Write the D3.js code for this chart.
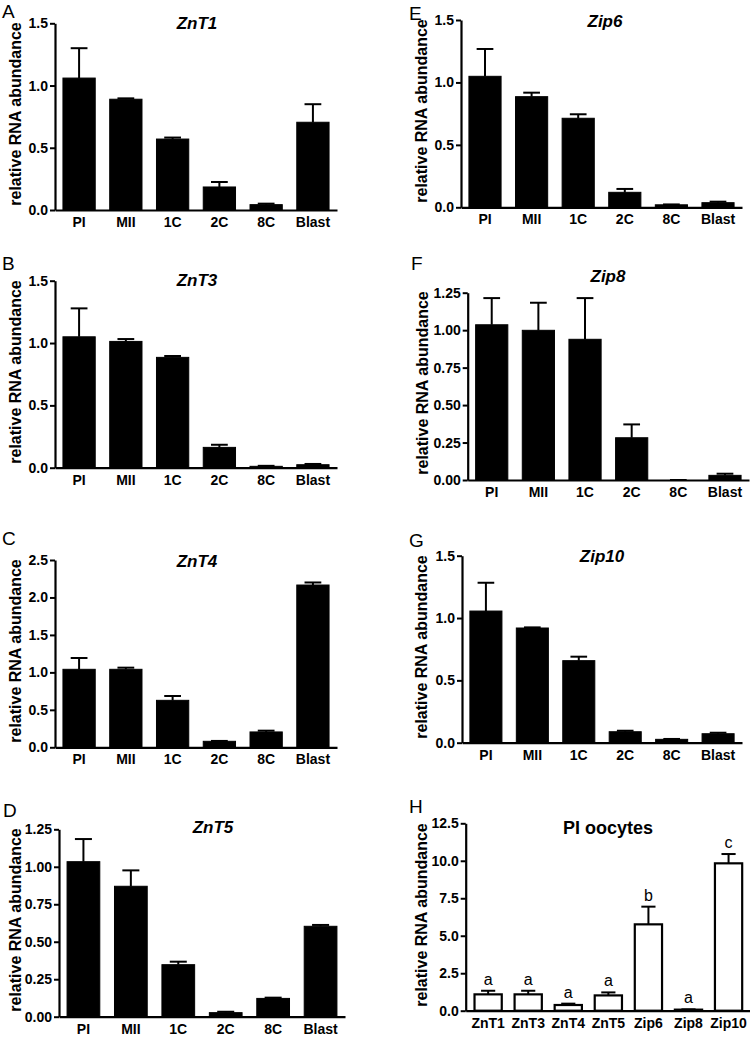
<!DOCTYPE html>
<html>
<head>
<meta charset="utf-8">
<script src="https://cdn.jsdelivr.net/npm/d3@7"></script>
<style>
body{margin:0;background:#fff;}
svg{display:block;font-family:"Liberation Sans",Arial,sans-serif;}
</style>
</head>
<body>
<svg id="fig" width="750" height="1037"></svg>
<script>
// categories
var stages=["PI","MII","1C","2C","8C","Blast"];
var transporters=["ZnT1","ZnT3","ZnT4","ZnT5","Zip6","Zip8","Zip10"];

// means and upper error (SEM)
var znt1Mean=[1.06,0.89,0.57,0.185,0.043,0.705];
var znt1Err=[0.24,0.007,0.012,0.04,0.008,0.145];
var znt3Mean=[1.05,1.013,0.885,0.163,0.011,0.024];
var znt3Err=[0.228,0.019,0.011,0.021,0.004,0.006];
var znt4Mean=[1.041,1.041,0.627,0.08,0.205,2.166];
var znt4Err=[0.151,0.022,0.058,0.005,0.017,0.034];
var znt5Mean=[1.034,0.87,0.347,0.027,0.122,0.603];
var znt5Err=[0.151,0.106,0.02,0.006,0.005,0.009];
var zip6Mean=[1.049,0.886,0.713,0.12,0.02,0.037];
var zip6Err=[0.219,0.032,0.032,0.027,0.003,0.008];
var zip8Mean=[1.036,0.999,0.939,0.282,0,0.031];
var zip8Err=[0.178,0.184,0.275,0.089,0,0.011];
var zip10Mean=[1.056,0.92,0.658,0.088,0.027,0.072];
var zip10Err=[0.227,0.005,0.032,0.008,0.003,0.008];
var piMean=[1.09,1.09,0.38,1.02,5.76,0.07,9.83];
var piErr=[0.24,0.24,0.09,0.2,1.18,0.02,0.62];
var piGroups=["a","a","a","a","b","a","c"];

var svg=d3.select("#fig");

var panels=[
 {letter:"A",lx:2,ly:18,title:"ZnT1",italic:true,tx:197,ty:29,cats:stages,mean:znt1Mean,err:znt1Err,max:1.5,step:0.5,fmt:".1f",x0:55,x1:337,top:23.3,zero:210,ylx:21,yly:114},
 {letter:"B",lx:2,ly:270,title:"ZnT3",italic:true,tx:197,ty:286,cats:stages,mean:znt3Mean,err:znt3Err,max:1.5,step:0.5,fmt:".1f",x0:55,x1:337,top:280.7,zero:467.7,ylx:21,yly:372},
 {letter:"C",lx:2,ly:545,title:"ZnT4",italic:true,tx:197,ty:567,cats:stages,mean:znt4Mean,err:znt4Err,max:2.5,step:0.5,fmt:".1f",x0:55,x1:337,top:560,zero:747.3,ylx:21,yly:651},
 {letter:"D",lx:3,ly:817,title:"ZnT5",italic:true,tx:213,ty:833,cats:stages,mean:znt5Mean,err:znt5Err,max:1.25,step:0.25,fmt:".2f",x0:59,x1:345,top:829.3,zero:1016.7,ylx:21,yly:920},
 {letter:"E",lx:409,ly:20,title:"Zip6",italic:true,tx:605,ty:27,cats:stages,mean:zip6Mean,err:zip6Err,max:1.5,step:0.5,fmt:".1f",x0:461,x1:742,top:20,zero:207.3,ylx:427,yly:111},
 {letter:"F",lx:411,ly:270,title:"Zip8",italic:true,tx:608,ty:282,cats:stages,mean:zip8Mean,err:zip8Err,max:1.25,step:0.25,fmt:".2f",x0:467.7,x1:749,top:292.7,zero:480,ylx:428,yly:383},
 {letter:"G",lx:409,ly:547,title:"Zip10",italic:true,tx:602,ty:562,cats:stages,mean:zip10Mean,err:zip10Err,max:1.5,step:0.5,fmt:".1f",x0:462,x1:742,top:555.7,zero:742.7,ylx:427,yly:647},
 {letter:"H",lx:409,ly:813,title:"PI oocytes",italic:false,tx:608,ty:834,cats:transporters,mean:piMean,err:piErr,groups:piGroups,open:true,max:12.5,step:2.5,fmt:".1f",x0:465.7,x1:751,top:823.3,zero:1010.7,ylx:427,yly:915}
];

panels.forEach(function(p){
  var g=svg.append("g");
  var narrow=p.cats.length>6;

  var x=d3.scaleBand()
    .domain(p.cats)
    .range([p.x0,p.x1])
    .paddingInner(narrow?0.32:0.31)
    .paddingOuter(narrow?0.22:0.17);
  var y=d3.scaleLinear().domain([0,p.max]).range([p.zero,p.top]);

  // bars
  g.selectAll(".bar")
    .data(p.mean)
    .enter().append("rect")
    .attr("x",function(d,i){ return x(p.cats[i]); })
    .attr("width",x.bandwidth())
    .attr("y",function(d){ return y(d); })
    .attr("height",function(d){ return p.zero-y(d); })
    .attr("fill",p.open?"#fff":"#000")
    .attr("stroke","#000")
    .attr("stroke-width",p.open?2.2:1);

  // upper error bars
  var eb=g.selectAll(".eb")
    .data(p.mean)
    .enter().append("g");
  eb.append("line")
    .attr("x1",function(d,i){ return x(p.cats[i])+x.bandwidth()/2; })
    .attr("x2",function(d,i){ return x(p.cats[i])+x.bandwidth()/2; })
    .attr("y1",function(d){ return y(d); })
    .attr("y2",function(d,i){ return y(d+p.err[i]); })
    .attr("stroke","#000").attr("stroke-width",2);
  eb.append("line")
    .attr("x1",function(d,i){ return x(p.cats[i])+x.bandwidth()*0.24; })
    .attr("x2",function(d,i){ return x(p.cats[i])+x.bandwidth()*0.76; })
    .attr("y1",function(d,i){ return y(d+p.err[i]); })
    .attr("y2",function(d,i){ return y(d+p.err[i]); })
    .attr("stroke","#000").attr("stroke-width",2);

  if(p.groups){
    g.selectAll(".grp")
      .data(p.groups)
      .enter().append("text")
      .attr("x",function(d,i){ return x(p.cats[i])+x.bandwidth()/2; })
      .attr("y",function(d,i){ return y(p.mean[i]+p.err[i])-6; })
      .attr("text-anchor","middle")
      .attr("font-size",16)
      .text(function(d){ return d; });
  }

  // y axis
  var ya=g.append("g")
    .attr("transform","translate("+p.x0+",0)")
    .call(d3.axisLeft(y)
      .tickValues(d3.range(0,p.max+1e-6,p.step))
      .tickFormat(d3.format(p.fmt))
      .tickSize(5).tickSizeOuter(0).tickPadding(2));
  ya.select(".domain").attr("stroke-width",2.2);
  ya.selectAll(".tick line").attr("stroke-width",2);
  ya.selectAll("text")
    .attr("font-size",14).attr("font-weight","bold").attr("font-family","Liberation Sans, Arial, sans-serif");

  // x axis
  var xa=g.append("g")
    .attr("transform","translate(0,"+p.zero+")")
    .call(d3.axisBottom(x).tickSize(0).tickSizeOuter(0).tickPadding(7));
  xa.select(".domain").attr("stroke-width",2.2);
  xa.selectAll("text")
    .attr("font-size",14).attr("font-weight","bold").attr("font-family","Liberation Sans, Arial, sans-serif");

  // y label
  g.append("text")
    .attr("transform","translate("+p.ylx+","+p.yly+") rotate(-90)")
    .attr("text-anchor","middle")
    .attr("font-size",16)
    .attr("font-weight","bold")
    .text("relative RNA abundance");

  // title
  g.append("text")
    .attr("x",p.tx).attr("y",p.ty)
    .attr("text-anchor","middle")
    .attr("font-size",p.italic?17:18)
    .attr("font-weight","bold")
    .attr("font-style",p.italic?"italic":"normal")
    .text(p.title);

  // panel letter
  g.append("text")
    .attr("x",p.lx).attr("y",p.ly)
    .attr("font-size",19)
    .text(p.letter);
});
</script>
</body>
</html>
